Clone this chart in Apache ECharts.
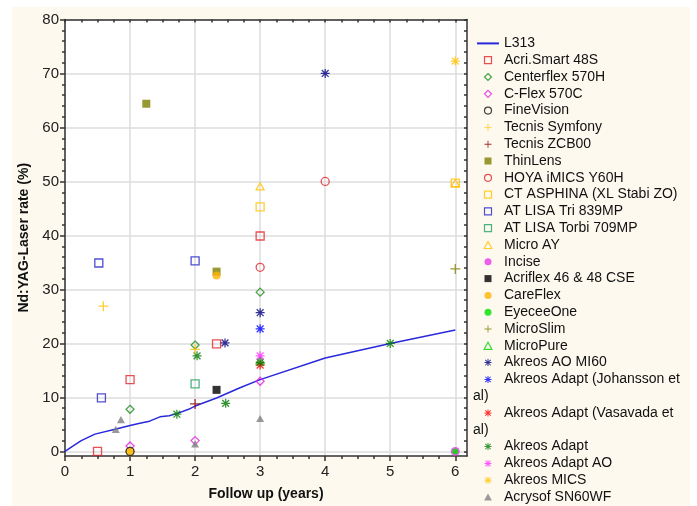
<!DOCTYPE html>
<html><head><meta charset="utf-8">
<script src="https://cdn.jsdelivr.net/npm/echarts@6/dist/echarts.min.js"></script>
<style>
html,body{margin:0;padding:0;background:#fff;}
#bg{position:absolute;left:12px;top:7px;width:678px;height:499px;background:#FDF9EE;}
#chart{position:absolute;left:0;top:0;width:697px;height:506px;}
</style></head><body>
<div id="bg"></div><div id="chart"></div>
<script>
// ---- axis ticks ----
const xTicks = [0, 1, 2, 3, 4, 5, 6];
const yTicks = [0, 10, 20, 30, 40, 50, 60, 70, 80];
const xMinorTicks = [0.25,0.5,0.75,1.25,1.5,1.75,2.25,2.5,2.75,3.25,3.5,3.75,4.25,4.5,4.75,5.25,5.5,5.75];
const yMinorTicks = [2,4,6,8,12,14,16,18,22,24,26,28,32,34,36,38,42,44,46,48,52,54,56,58,62,64,66,68,72,74,76,78];

// ---- L313 curve ----
const l313Years = [0, 0.12, 0.25, 0.46, 0.77, 1, 1.15, 1.3, 1.46, 1.6, 1.72, 1.9, 2, 2.33, 2.69, 3, 4, 5, 6];
const l313Rate  = [0, 1.0, 2.0, 3.2, 4.1, 4.8, 5.2, 5.6, 6.4, 6.6, 7.0, 7.8, 8.4, 9.9, 11.8, 13.3, 17.3, 20.0, 22.5];

// ---- lens data: [years, rate] ----
const acriSmart48S   = [[0.5,0],[1,13.3],[2.33,19.9],[3,39.9]];
const centerflex570H = [[1,7.8],[2,19.7],[3,29.5]];
const cFlex570C      = [[1,1.0],[2,2.0],[3,13.0]];
const fineVision     = [[1,0]];
const tecnisSymfony  = [[0.59,26.9],[2,18.9],[1,0]];
const tecnisZCB00    = [[2,8.8]];
const thinLens       = [[1.25,64.4],[2.33,33.3]];
const hoyaImics      = [[3,34.1],[4,50.0]];
const ctAsphina      = [[3,45.3],[6,49.7]];
const atLisaTri      = [[0.52,34.9],[0.56,9.9],[2,35.3]];
const atLisaTorbi    = [[2,12.5]];
const microAY        = [[3,49.1],[6,49.7]];
const incise         = [[6,0]];
const acriflex       = [[2.33,11.4]];
const careFlex       = [[2.33,32.6],[1,0]];
const eyeceeOne      = [[6,0]];
const microSlim      = [[6,33.8]];
const microPure      = [[3,16.9]];
const akreosAOMI60   = [[2.46,20.1],[3,25.7],[4,70.0]];
const akreosJohansson= [[3,22.7]];
const akreosVasavada = [[3,16.0]];
const akreosAdapt    = [[1.72,6.9],[2.03,17.7],[2.47,8.9],[3,16.5],[5,20.0]];
const akreosAdaptAO  = [[3,17.7]];
const akreosMICS     = [[6,72.3]];
const acrysofSN60WF  = [[0.78,4.1],[0.86,5.9],[2,1.4],[3,6.1]];

const seriesNames = ['Acri.Smart 48S','Centerflex 570H','C-Flex 570C','FineVision','Tecnis Symfony','Tecnis ZCB00','ThinLens','HOYA iMICS Y60H','CT ASPHINA (XL Stabi ZO)','AT LISA Tri 839MP','AT LISA Torbi 709MP','Micro AY','Incise','Acriflex 46 & 48 CSE','CareFlex','EyeceeOne','MicroSlim','MicroPure','Akreos AO MI60','Akreos Adapt (Johansson et al)','Akreos Adapt (Vasavada et al)','Akreos Adapt','Akreos Adapt AO','Akreos MICS','Acrysof SN60WF'];
const seriesData = [acriSmart48S,centerflex570H,cFlex570C,fineVision,tecnisSymfony,tecnisZCB00,thinLens,hoyaImics,ctAsphina,atLisaTri,atLisaTorbi,microAY,incise,acriflex,careFlex,eyeceeOne,microSlim,microPure,akreosAOMI60,akreosJohansson,akreosVasavada,akreosAdapt,akreosAdaptAO,akreosMICS,acrysofSN60WF];

// ---- styles ----
const SQ = 'path://M0,0H10V10H0Z';
const DIA = 'path://M5,0L10,5L5,10L0,5Z';
const TRI = 'path://M5,0L10,9L0,9Z';
const PLUS = 'path://M-0.65,-5H0.65V5H-0.65Z M-5,-0.65H5V0.65H-5Z';
const STAR = 'path://M-0.7,-5H0.7V5H-0.7Z M-5,-0.7H5V0.7H-5Z M-4.3,-3.3L-3.3,-4.3L4.3,3.3L3.3,4.3Z M-4.3,3.3L3.3,-4.3L4.3,-3.3L-3.3,4.3Z';
// [symbol, color, open?, size, z]
const styles = [
  [SQ,'#E3242B',true,8,3],
  [DIA,'#1E8C1E',true,8,3],
  [DIA,'#E020E0',true,8,3],
  ['circle','#111111',true,8,5],
  [PLUS,'#FFC000',false,10,4],
  [PLUS,'#8B0000',false,10,3],
  [SQ,'#808000',false,8,3],
  ['circle','#E3242B',true,8,3],
  [SQ,'#FFC000',true,8,3],
  [SQ,'#2424C8',true,8,3],
  [SQ,'#20A060',true,8,3],
  [TRI,'#FFC000',true,8,3],
  ['circle','#E838E8',false,9,3],
  [SQ,'#000000',false,8,3],
  ['circle','#FFB300',false,8,3],
  ['circle','#00E000',false,6,4],
  [PLUS,'#808000',false,10,3],
  [TRI,'#00D000',true,8,3],
  [STAR,'#000080',false,9,3],
  [STAR,'#0000FF',false,9,3],
  [STAR,'#FF0000',false,9,3],
  [STAR,'#007A00',false,9,3],
  [STAR,'#FF30FF',false,9,3],
  [STAR,'#FFC000',false,9,3],
  [TRI,'#808080',false,8,3]
];

const series = [{
  name: 'L313', type: 'line', symbol: 'none', z: 1,
  data: l313Years.map((x, i) => [x, l313Rate[i]]),
  lineStyle: { color: '#2828DC', width: 1.5 },
  itemStyle: { color: '#2828DC' }
}];
seriesNames.forEach((n, i) => {
  const s = styles[i];
  series.push({
    name: n, type: 'scatter', z: s[4], symbol: s[0], symbolSize: s[3], symbolKeepAspect: true, data: seriesData[i],
    itemStyle: s[2] ? { color: 'rgba(255,255,255,0)', borderColor: s[1], borderWidth: 1.3 } : { color: s[1] }
  });
});
series.push({ name: 'al)', type: 'scatter', data: [] });
series.push({ name: 'al) ', type: 'scatter', data: [] });

const legendData = [{ name: 'L313', itemStyle: { opacity: 0 } }];
seriesNames.forEach(n => {
  legendData.push(n);
  if (n === 'Akreos Adapt (Johansson et al)') legendData.push({ name: 'al)', itemStyle: { opacity: 0 }, textStyle: { padding: [0,0,0,-31] } });
  if (n === 'Akreos Adapt (Vasavada et al)') legendData.push({ name: 'al) ', itemStyle: { opacity: 0 }, textStyle: { padding: [0,0,0,-31] } });
});

const FONT = 'Liberation Sans, Arial, sans-serif';
const axisLineStyle = { color: '#333', width: 1.5 };
const hidden = { show: false };

const chart = echarts.init(document.getElementById('chart'), null, { renderer: 'canvas' });
chart.setOption({
  backgroundColor: 'transparent',
  animation: false,
  grid: { left: 65, right: 230, top: 19.5, bottom: 46.7, show: true, backgroundColor: '#fff', borderWidth: 0 },
  legend: {
    orient: 'vertical', left: 473, top: 35, padding: 0, itemGap: 0,
    itemWidth: 22, itemHeight: 7, symbolKeepAspect: true,
    itemStyle: { borderWidth: 1.2 },
    textStyle: { fontFamily: FONT, fontSize: 14, color: '#111', lineHeight: 16.8 },
    formatter: n => n === 'Akreos Adapt (Johansson et al)' ? 'Akreos Adapt (Johansson et'
                  : n === 'Akreos Adapt (Vasavada et al)' ? 'Akreos Adapt (Vasavada et'
                  : n.trim(),
    data: legendData
  },
  xAxis: [
    { type: 'value', position: 'bottom', min: 0, max: 6.18,
      name: 'Follow up (years)', nameLocation: 'middle', nameGap: 31,
      nameTextStyle: { fontFamily: FONT, fontSize: 14, fontWeight: 'bold', color: '#111' },
      axisLine: { show: true, onZero: false, lineStyle: axisLineStyle },
      axisTick: { show: true, inside: false, length: 5, customValues: xTicks, lineStyle: axisLineStyle },
      axisLabel: { show: true, customValues: xTicks, margin: 8, fontFamily: FONT, fontSize: 15, color: '#222' },
      splitLine: { show: true, lineStyle: { color: '#DDDDDD', width: 1.5 } } },
    { type: 'value', position: 'bottom', min: 0, max: 6.18,
      axisLine: { show: false, onZero: false },
      axisTick: { show: true, inside: false, length: 3, customValues: xMinorTicks, lineStyle: axisLineStyle },
      axisLabel: hidden, splitLine: hidden },
    { type: 'value', position: 'top', min: 0, max: 6.18,
      axisLine: { show: true, onZero: false, lineStyle: axisLineStyle },
      axisTick: { show: true, inside: true, length: 3, customValues: xTicks.concat(xMinorTicks), lineStyle: axisLineStyle },
      axisLabel: hidden, splitLine: hidden }
  ],
  yAxis: [
    { type: 'value', position: 'left', min: -0.85, max: 80,
      name: 'Nd:YAG-Laser rate (%)', nameLocation: 'middle', nameGap: 30,
      nameTextStyle: { fontFamily: FONT, fontSize: 14, fontWeight: 'bold', color: '#111' },
      axisLine: { show: true, onZero: false, lineStyle: axisLineStyle },
      axisTick: { show: true, inside: false, length: 5, customValues: yTicks, lineStyle: axisLineStyle },
      axisLabel: { show: true, customValues: yTicks, margin: 6, fontFamily: FONT, fontSize: 15, color: '#222' },
      splitLine: { show: true, lineStyle: { color: '#DDDDDD', width: 1.5 } } },
    { type: 'value', position: 'left', min: -0.85, max: 80,
      axisLine: { show: false, onZero: false },
      axisTick: { show: true, inside: false, length: 3, customValues: yMinorTicks, lineStyle: axisLineStyle },
      axisLabel: hidden, splitLine: hidden },
    { type: 'value', position: 'right', min: -0.85, max: 80,
      axisLine: { show: true, onZero: false, lineStyle: axisLineStyle },
      axisTick: { show: true, inside: true, length: 3, customValues: yTicks.concat(yMinorTicks), lineStyle: axisLineStyle },
      axisLabel: hidden, splitLine: hidden }
  ],
  series: series
});
</script>
</body></html>
